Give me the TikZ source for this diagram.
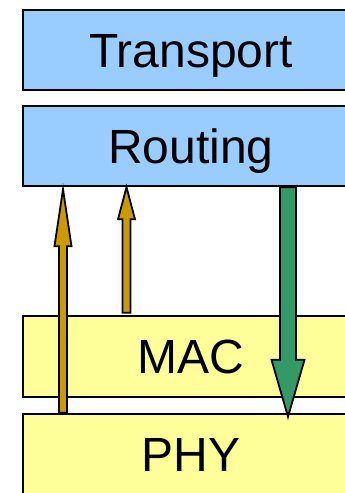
\documentclass[tikz,border=0pt]{standalone}
\usepackage{fontspec}
\setmainfont{Liberation Sans}
\usetikzlibrary{calc}

\tikzset{
  layer/.style={draw=black, line width=2.4pt, minimum width=336pt, inner sep=0pt,
    font=\fontsize{48}{57}\selectfont, text height=34.4pt, text depth=0pt},
  upper/.style={layer, fill=blueL},
  lower/.style={layer, fill=yellowL},
  arrowline/.style={draw=black, line width=1.8pt, line join=miter},
}
\definecolor{blueL}{HTML}{99CCFF}
\definecolor{yellowL}{HTML}{FFFF99}
\definecolor{orangeA}{HTML}{CC9900}
\definecolor{greenA}{HTML}{339966}

% block arrow: start, tip, shaft half-width, head half-width, head length, fill colour
\newcommand\blockarrow[6]{%
  \coordinate (hb) at ($(#2)!#5!(#1)$);
  \path[arrowline, fill=#6]
    ($(#1)!#3!90:(#2)$) -- ($(hb)!#3!90:(#2)$) -- ($(hb)!#4!90:(#2)$) -- (#2)
    -- ($(hb)!#4!-90:(#2)$) -- ($(hb)!#3!-90:(#2)$) -- ($(#1)!#3!-90:(#2)$) -- cycle;
}

\begin{document}
\begin{tikzpicture}[x=1pt, y=-1pt]
  \useasboundingbox (0,0) rectangle (345,493);

  % protocol layers
  \node[upper, minimum height=80pt] (transport) at (191,50) {Transport};
  \node[upper, minimum height=80pt] (routing) at (191,146) {Routing};
  \node[lower, minimum height=81pt] (mac) at (191,356.5) {MAC};
  \node[lower, minimum height=80pt] (phy) at (191,454) {PHY};

  % arrow columns
  \coordinate (c1) at (63,0);
  \coordinate (c2) at (126.5,0);
  \coordinate (c3) at (288,0);

  \coordinate (a1s) at (c1 |- phy.north);
  \coordinate (a1t) at ($(c1 |- routing.south)+(0,2)$);
  \coordinate (a2s) at ($(c2 |- mac.north)+(0,-2)$);
  \coordinate (a2t) at (c2 |- routing.south);
  \coordinate (a3s) at (c3 |- routing.south);
  \coordinate (a3t) at ($(c3 |- phy.north)+(0,4)$);

  \blockarrow{a1s}{a1t}{4pt}{8.5pt}{57pt}{orangeA}
  \blockarrow{a2s}{a2t}{4pt}{8.5pt}{32pt}{orangeA}
  \blockarrow{a3s}{a3t}{8pt}{16.5pt}{57pt}{greenA}
\end{tikzpicture}
\end{document}
